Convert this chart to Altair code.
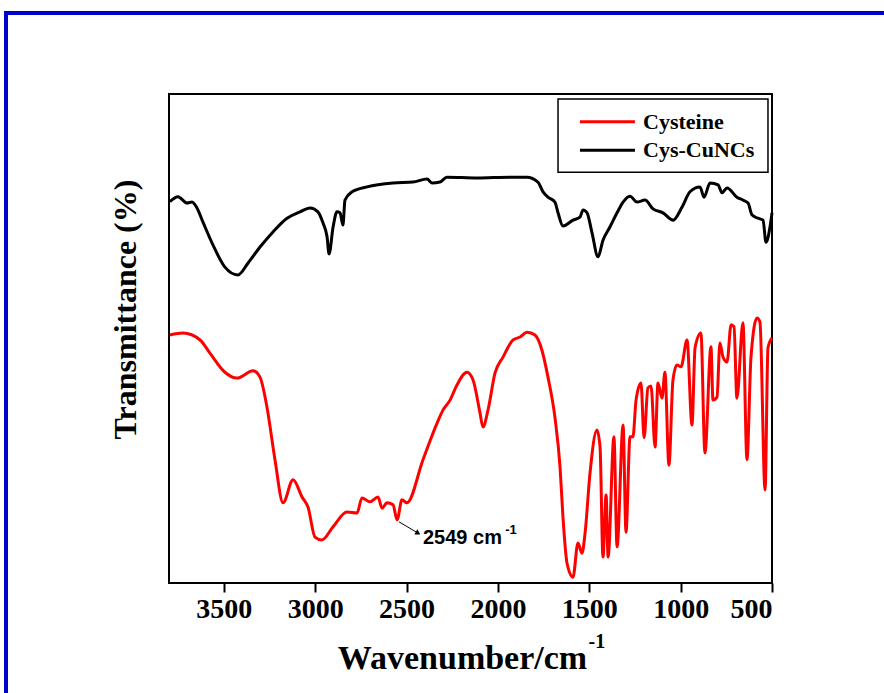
import altair as alt
import pandas as pd

# ---- data (wavenumber cm^-1, transmittance a.u.) ----
cys_cu_wn = [3795, 3751, 3701, 3674, 3647, 3614, 3559, 3494, 3423, 3368, 3302, 3231, 3154, 3083,
             3028, 2985, 2957, 2935, 2924, 2902, 2881, 2864, 2848, 2837, 2798, 2716, 2574, 2465,
             2388, 2361, 2317, 2279, 2114, 1934, 1841, 1781, 1753, 1726, 1688, 1671, 1644, 1589,
             1551, 1534, 1512, 1485, 1452, 1425, 1387, 1348, 1315, 1277, 1239, 1195, 1151, 1097,
             1041, 992, 949, 894, 872, 839, 795, 774, 746, 692, 659, 631, 610, 577, 549, 533, 511, 500]
cys_cu_t = [78.0, 79.0, 77.7, 77.9, 76.7, 73.8, 69.1, 64.6, 63.0, 65.4, 68.7, 71.8, 74.6, 75.9,
            76.7, 75.9, 73.6, 70.8, 67.3, 72.8, 75.9, 75.7, 73.2, 78.3, 80.0, 81.0, 81.8, 82.0,
            82.6, 81.8, 82.0, 83.0, 82.8, 83.0, 83.0, 82.0, 80.0, 78.9, 77.9, 75.7, 73.0, 74.2,
            74.8, 76.3, 75.7, 71.6, 66.7, 70.1, 72.8, 75.7, 77.9, 79.1, 77.9, 78.3, 76.5, 75.7,
            74.2, 76.9, 80.0, 81.0, 78.9, 81.8, 81.4, 79.8, 80.8, 78.9, 78.3, 77.7, 75.3, 74.6,
            74.2, 69.7, 72.8, 75.7]

cys_wn = [3795, 3723, 3630, 3576, 3494, 3428, 3340, 3302, 3264, 3220, 3176, 3121, 3072, 3039,
          3001, 2963, 2902, 2826, 2771, 2744, 2700, 2656, 2634, 2607, 2574, 2552, 2525, 2498,
          2410, 2333, 2300, 2262, 2224, 2169, 2136, 2098, 2082, 2054, 2016, 1972, 1917, 1879,
          1841, 1797, 1759, 1726, 1688, 1660, 1644, 1622, 1589, 1562, 1540, 1523, 1496, 1458,
          1441, 1425, 1408, 1397, 1365, 1348, 1315, 1299, 1277, 1261, 1244, 1217, 1200, 1179,
          1162, 1140, 1124, 1102, 1086, 1064, 1042, 1020, 998, 965, 938, 921, 889, 867, 834,
          823, 801, 785, 768, 746, 724, 708, 692, 659, 637, 615, 582, 566, 538, 522, 500]
cys_t = [50.7, 51.1, 49.7, 47.0, 43.1, 41.9, 43.4, 42.1, 36.0, 25.2, 16.4, 21.1, 17.6, 15.5,
         9.4, 8.8, 11.5, 14.5, 14.3, 17.4, 16.6, 17.6, 15.3, 16.4, 16.0, 12.9, 17.0, 16.4,
         25.2, 32.7, 35.4, 37.4, 40.5, 43.1, 41.5, 34.8, 31.9, 35.4, 42.9, 46.2, 49.7, 50.3,
         51.3, 50.7, 47.6, 42.1, 33.9, 23.7, 13.5, 4.1, 1.2, 8.2, 6.1, 10.2, 22.5, 31.3,
         27.8, 5.3, 18.0, 5.3, 29.9, 7.4, 32.3, 10.4, 29.9, 29.9, 37.4, 40.9, 29.7, 39.9,
         40.3, 27.8, 40.9, 37.8, 43.1, 24.1, 41.5, 44.6, 44.2, 49.7, 32.3, 48.1, 51.1, 26.6, 48.3,
         37.4, 38.0, 49.1, 46.2, 45.2, 52.8, 52.4, 37.8, 53.2, 25.2, 46.2, 54.2, 53.4, 19.0, 48.1, 50.1]

series_names = ["Cysteine", "Cys-CuNCs"]
series_colors = ["#ff0000", "#000000"]
x_ticks = [3500, 3000, 2500, 2000, 1500, 1000, 500]

# annotation (2549 cm-1 peak)
arrow_start = (2541, 12.5)
arrow_end = (2437, 10.2)
note_pos = (2410, 9.2)
note_sup_pos = (1928, 10.8)
xtitle_sup_pos = (1458, -12.1)

# legend placement (in data units of the plot)
legend_box = (1671, 522, 99.0, 84.0)
legend_line_x = (1551, 1250)
legend_text_x = 1206
legend_rows_t = [94.3, 88.5]

SERIF = "Liberation Serif"
SANS = "Liberation Sans"

df = pd.concat([
    pd.DataFrame({"wn": cys_wn, "t": cys_t, "series": "Cysteine", "i": range(len(cys_wn))}),
    pd.DataFrame({"wn": cys_cu_wn, "t": cys_cu_t, "series": "Cys-CuNCs", "i": range(len(cys_cu_wn))}),
])

xscale = alt.Scale(domain=[500, 3800], reverse=True, nice=False, zero=False)
yscale = alt.Scale(domain=[0, 100], nice=False, zero=False)
cscale = alt.Scale(domain=series_names, range=series_colors)

lines = alt.Chart(df).mark_line(strokeWidth=3, interpolate="monotone").encode(
    x=alt.X("wn:Q", scale=xscale,
            axis=alt.Axis(values=x_ticks, title="Wavenumber/cm", format="d", titleX=293)),
    y=alt.Y("t:Q", scale=yscale,
            axis=alt.Axis(labels=False, ticks=False, domain=False, grid=False,
                          title="Transmittance (%)", titleX=-44, titleY=215,
                          titleBaseline="middle", titleAlign="center")),
    color=alt.Color("series:N", scale=cscale, legend=None),
    detail="series:N",
    order="i:Q",
)

arrow_df = pd.DataFrame({"x": [arrow_start[0]], "y": [arrow_start[1]],
                         "x2": [arrow_end[0]], "y2": [arrow_end[1]]})
arrow = alt.Chart(arrow_df).mark_rule(color="black", strokeWidth=1).encode(
    x=alt.X("x:Q", scale=xscale), y=alt.Y("y:Q", scale=yscale), x2="x2:Q", y2="y2:Q")
head = alt.Chart(pd.DataFrame({"x": [arrow_end[0]], "y": [arrow_end[1]]})).mark_point(
    shape="triangle-right", filled=True, color="black", size=35, angle=30, opacity=1).encode(
    x=alt.X("x:Q", scale=xscale), y=alt.Y("y:Q", scale=yscale))

note = alt.Chart(pd.DataFrame({"x": [note_pos[0]], "y": [note_pos[1]], "s": ["2549 cm"]})).mark_text(
    font=SANS, fontSize=20, fontWeight="bold", align="left", baseline="middle", color="black").encode(
    x=alt.X("x:Q", scale=xscale), y=alt.Y("y:Q", scale=yscale), text="s:N")
note_sup = alt.Chart(pd.DataFrame({"x": [note_sup_pos[0]], "y": [note_sup_pos[1]], "s": ["-1"]})).mark_text(
    font=SANS, fontSize=13, fontWeight="bold", align="center", baseline="middle", color="black").encode(
    x=alt.X("x:Q", scale=xscale), y=alt.Y("y:Q", scale=yscale), text="s:N")
xsup = alt.Chart(pd.DataFrame({"x": [xtitle_sup_pos[0]], "y": [xtitle_sup_pos[1]], "s": ["-1"]})).mark_text(
    font=SERIF, fontSize=20, fontWeight="bold", align="center", baseline="middle", color="black",
    clip=False).encode(
    x=alt.X("x:Q", scale=xscale), y=alt.Y("y:Q", scale=yscale), text="s:N")

# manual legend
leg_box = alt.Chart(pd.DataFrame({"x": [legend_box[0]], "x2": [legend_box[1]],
                                  "y": [legend_box[2]], "y2": [legend_box[3]]})).mark_rect(
    fill="white", stroke="black", strokeWidth=1.5).encode(
    x=alt.X("x:Q", scale=xscale), x2="x2:Q", y=alt.Y("y:Q", scale=yscale), y2="y2:Q")
leg_df = pd.DataFrame({"series": series_names, "t": legend_rows_t,
                       "x": [legend_line_x[0]] * 2, "x2": [legend_line_x[1]] * 2,
                       "tx": [legend_text_x] * 2})
leg_lines = alt.Chart(leg_df).mark_rule(strokeWidth=3).encode(
    x=alt.X("x:Q", scale=xscale), x2="x2:Q", y=alt.Y("t:Q", scale=yscale),
    color=alt.Color("series:N", scale=cscale, legend=None))
leg_text = alt.Chart(leg_df).mark_text(
    font=SERIF, fontSize=22, fontWeight="bold", align="left", baseline="middle", color="black").encode(
    x=alt.X("tx:Q", scale=xscale), y=alt.Y("t:Q", scale=yscale), text="series:N")

frame = alt.Chart(pd.DataFrame({"a": [0]})).mark_rect(
    filled=False, stroke="#0000cc", strokeWidth=4, clip=False).encode(
    x=alt.value(-163), x2=alt.value(2000), y=alt.value(-81), y2=alt.value(2000))

chart = alt.layer(frame, lines, arrow, head, note, note_sup, xsup, leg_box, leg_lines, leg_text).properties(
    width=603, height=489,
    autosize=alt.AutoSizeParams(type="none"),
    padding={"left": 169, "top": 94, "right": 112, "bottom": 110},
    background="white",
).configure_view(
    stroke="black", strokeWidth=2
).configure_axis(
    grid=False,
    labelFont=SERIF, labelFontSize=28, labelFontWeight="bold", labelColor="black",
    titleFont=SERIF, titleFontWeight="bold", titleColor="black",
    tickColor="black", tickWidth=2, tickSize=9, domain=False, labelPadding=3,
).configure_axisX(
    titleFontSize=34, titlePadding=18,
).configure_axisY(
    titleFontSize=32,
)

chart.save("out.html", embed_options={"renderer": "svg", "actions": False})
